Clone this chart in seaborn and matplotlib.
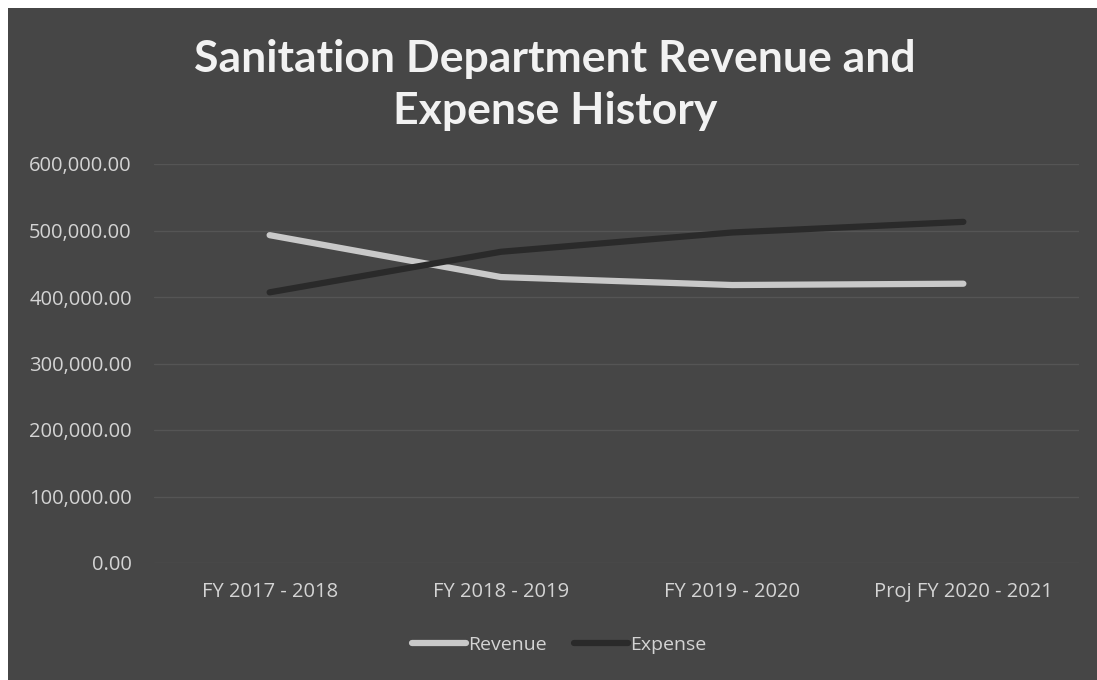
import matplotlib
matplotlib.use("Agg")
import matplotlib.pyplot as plt
import matplotlib.ticker as mticker
from matplotlib.patches import Rectangle
import pandas as pd
import seaborn as sns

categories = ["FY 2017 - 2018", "FY 2018 - 2019", "FY 2019 - 2020", "Proj FY 2020 - 2021"]
revenue = [493000, 430000, 418000, 420000]
expense = [407000, 468000, 497000, 513000]
series_names = ["Revenue", "Expense"]
title = "Sanitation Department Revenue and\nExpense History"

df = pd.DataFrame({
    "Year": categories * 2,
    "x": list(range(len(categories))) * 2,
    "Value": revenue + expense,
    "Series": [series_names[0]] * len(categories) + [series_names[1]] * len(categories),
})

sns.set_theme(style="dark")
plt.rcParams["font.family"] = ["Open Sans", "DejaVu Sans"]

BG = "#464646"
TXT = "#d4d4d4"
W, H = 1097, 680
fig = plt.figure(figsize=(W / 100, H / 100), dpi=100, facecolor="white")
fig.patches.append(Rectangle((8 / W, 0), 1 - 8 / W, 1 - 8 / H, transform=fig.transFigure,
                             facecolor=BG, edgecolor="none", zorder=-10))

ax = fig.add_axes([154 / W, 1 - 563 / H, (1079 - 154) / W, (563 - 164) / H])
ax.set_zorder(5)
ax.set_facecolor("none")

sns.lineplot(data=df, x="x", y="Value", hue="Series", hue_order=series_names,
             palette={"Revenue": "#c9c9c9", "Expense": "#2a2a2a"},
             linewidth=4.5, ax=ax, legend=True, sort=False)
for ln in ax.get_lines():
    ln.set_solid_capstyle("round")

ax.set_xlim(-0.5, len(categories) - 0.5)
ax.set_ylim(0, 600000)
ax.set_yticks(range(0, 600001, 100000))
ax.yaxis.set_major_formatter(mticker.FuncFormatter(lambda v, p: f"{v:,.2f}"))
ax.set_xticks(range(len(categories)))
ax.set_xticklabels(categories)
ax.grid(axis="y", color="#555555", linewidth=1.0)
ax.grid(axis="x", visible=False)
for s in ax.spines.values():
    s.set_visible(False)
ax.tick_params(axis="both", colors=TXT, labelsize=14.5, length=0)
ax.tick_params(axis="y", pad=16)
ax.tick_params(axis="x", pad=14)
ax.set_xlabel("")
ax.set_ylabel("")

handles, labels = ax.get_legend_handles_labels()
ax.get_legend().remove()
leg = fig.legend(handles, labels, loc="center", bbox_to_anchor=(559 / W, 1 - 645 / H), ncol=2,
                 frameon=False, handlelength=2.8, handletextpad=0.1, columnspacing=1.4,
                 fontsize=14)
for t in leg.get_texts():
    t.set_color(TXT)

fig.text(555 / W, 1 - 85 / H, title, ha="center", va="center", color="#f2f2f2",
         fontsize=32, fontweight="bold", linespacing=1.35, family=["Lato", "DejaVu Sans"])

fig.savefig("out.png", dpi=100, facecolor=fig.get_facecolor())
